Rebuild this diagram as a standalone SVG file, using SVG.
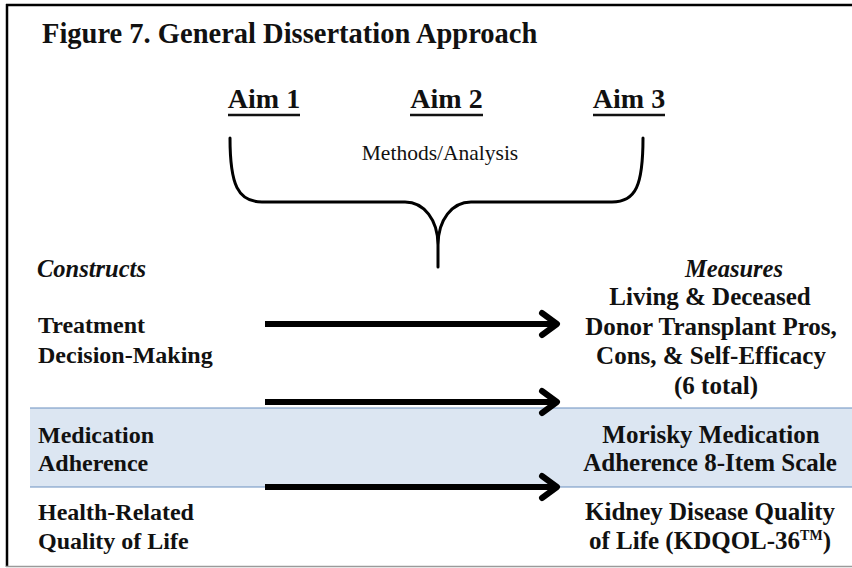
<svg xmlns="http://www.w3.org/2000/svg" width="852" height="568" viewBox="0 0 852 568">
  <style>
    text { font-family: "Liberation Serif", "Tinos", "DejaVu Serif", "Noto Serif", serif; fill: #111; }
    .title { font-size: 28.5px; font-weight: bold; }
    .aim { font-size: 28px; font-weight: bold; text-anchor: middle; }
    .sub { font-size: 21.5px; text-anchor: middle; }
    .head { font-size: 24.5px; font-weight: bold; font-style: italic; }
    .lbl { font-size: 24px; font-weight: bold; }
    .meas { font-size: 25px; font-weight: bold; text-anchor: middle; }
    .ul { stroke: #111; stroke-width: 2.5; }
    .arrow-line { stroke: #000; stroke-width: 6; fill: none; }
    .arrow-head { stroke: #000; stroke-width: 6; fill: none; stroke-linecap: round; stroke-linejoin: round; }
  </style>

  <!-- page background and frame -->
  <rect x="0" y="0" width="852" height="568" fill="#ffffff"/>
  <rect id="band" x="30" y="408" width="822" height="79" fill="#dce6f2"/>
  <line x1="30" y1="408" x2="852" y2="408" stroke="#6a8fbf" stroke-width="1.2"/>
  <line x1="30" y1="487" x2="852" y2="487" stroke="#6a8fbf" stroke-width="1.2"/>
  <line x1="6" y1="5" x2="852" y2="5" stroke="#000" stroke-width="2.5"/>
  <line x1="7" y1="4" x2="7" y2="567" stroke="#000" stroke-width="2.5"/>
  <line x1="6" y1="566.5" x2="852" y2="566.5" stroke="#9a9a9a" stroke-width="1.5"/>

  <text class="title" x="42" y="43">Figure 7. General Dissertation Approach</text>

  <!-- aims -->
  <g id="aim1">
    <text class="aim" x="264" y="108">Aim 1</text>
    <line class="ul" x1="228" y1="115" x2="300" y2="115"/>
  </g>
  <g id="aim2">
    <text class="aim" x="446.5" y="108">Aim 2</text>
    <line class="ul" x1="410" y1="115" x2="483" y2="115"/>
  </g>
  <g id="aim3">
    <text class="aim" x="629" y="108">Aim 3</text>
    <line class="ul" x1="593" y1="115" x2="665" y2="115"/>
  </g>

  <!-- curly brace gathering the aims -->
  <g id="methods">
    <text class="sub" x="440" y="160">Methods/Analysis</text>
    <path d="M230,138 C230,185 238,202 262,202 L405,202 C424,202 438,220 438,245 L438,267 M643,138 C643,185 636,202 612,202 L471,202 C452,202 438,220 438,245"
          fill="none" stroke="#000" stroke-width="3" stroke-linecap="round" stroke-linejoin="round"/>
  </g>

  <!-- column headings -->
  <text class="head" x="37" y="277">Constructs</text>
  <text class="head" x="734" y="277" text-anchor="middle">Measures</text>

  <!-- constructs -->
  <g id="construct-tdm">
    <text class="lbl" x="38" y="333">Treatment</text>
    <text class="lbl" x="38" y="363">Decision-Making</text>
  </g>
  <g id="construct-ma">
    <text class="lbl" x="38" y="443">Medication</text>
    <text class="lbl" x="38" y="471">Adherence</text>
  </g>
  <g id="construct-hrql">
    <text class="lbl" x="38" y="520">Health-Related</text>
    <text class="lbl" x="38" y="549">Quality of Life</text>
  </g>

  <!-- measures -->
  <g id="measure-tdm">
    <text class="meas" x="710" y="305">Living &amp; Deceased</text>
    <text class="meas" x="711" y="335">Donor Transplant Pros,</text>
    <text class="meas" x="711" y="364">Cons, &amp; Self-Efficacy</text>
    <text class="meas" x="716" y="394">(6 total)</text>
  </g>
  <g id="measure-ma">
    <text class="meas" x="711" y="443">Morisky Medication</text>
    <text class="meas" x="710" y="471">Adherence 8-Item Scale</text>
  </g>
  <g id="measure-hrql">
    <text class="meas" x="710" y="520">Kidney Disease Quality</text>
    <text class="meas" x="710" y="549">of Life (KDQOL-36<tspan font-size="14" dy="-9">TM</tspan><tspan dy="9">)</tspan></text>
  </g>

  <!-- connectors -->
  <g id="connectors">
    <line class="arrow-line" x1="265" y1="324" x2="554" y2="324"/>
    <path class="arrow-head" d="M542,313 L557,324 L542,335"/>
    <line class="arrow-line" x1="265" y1="402" x2="554" y2="402"/>
    <path class="arrow-head" d="M542,391 L557,402 L542,413"/>
    <line class="arrow-line" x1="265" y1="487" x2="554" y2="487"/>
    <path class="arrow-head" d="M542,476 L557,487 L542,498"/>
  </g>
</svg>
